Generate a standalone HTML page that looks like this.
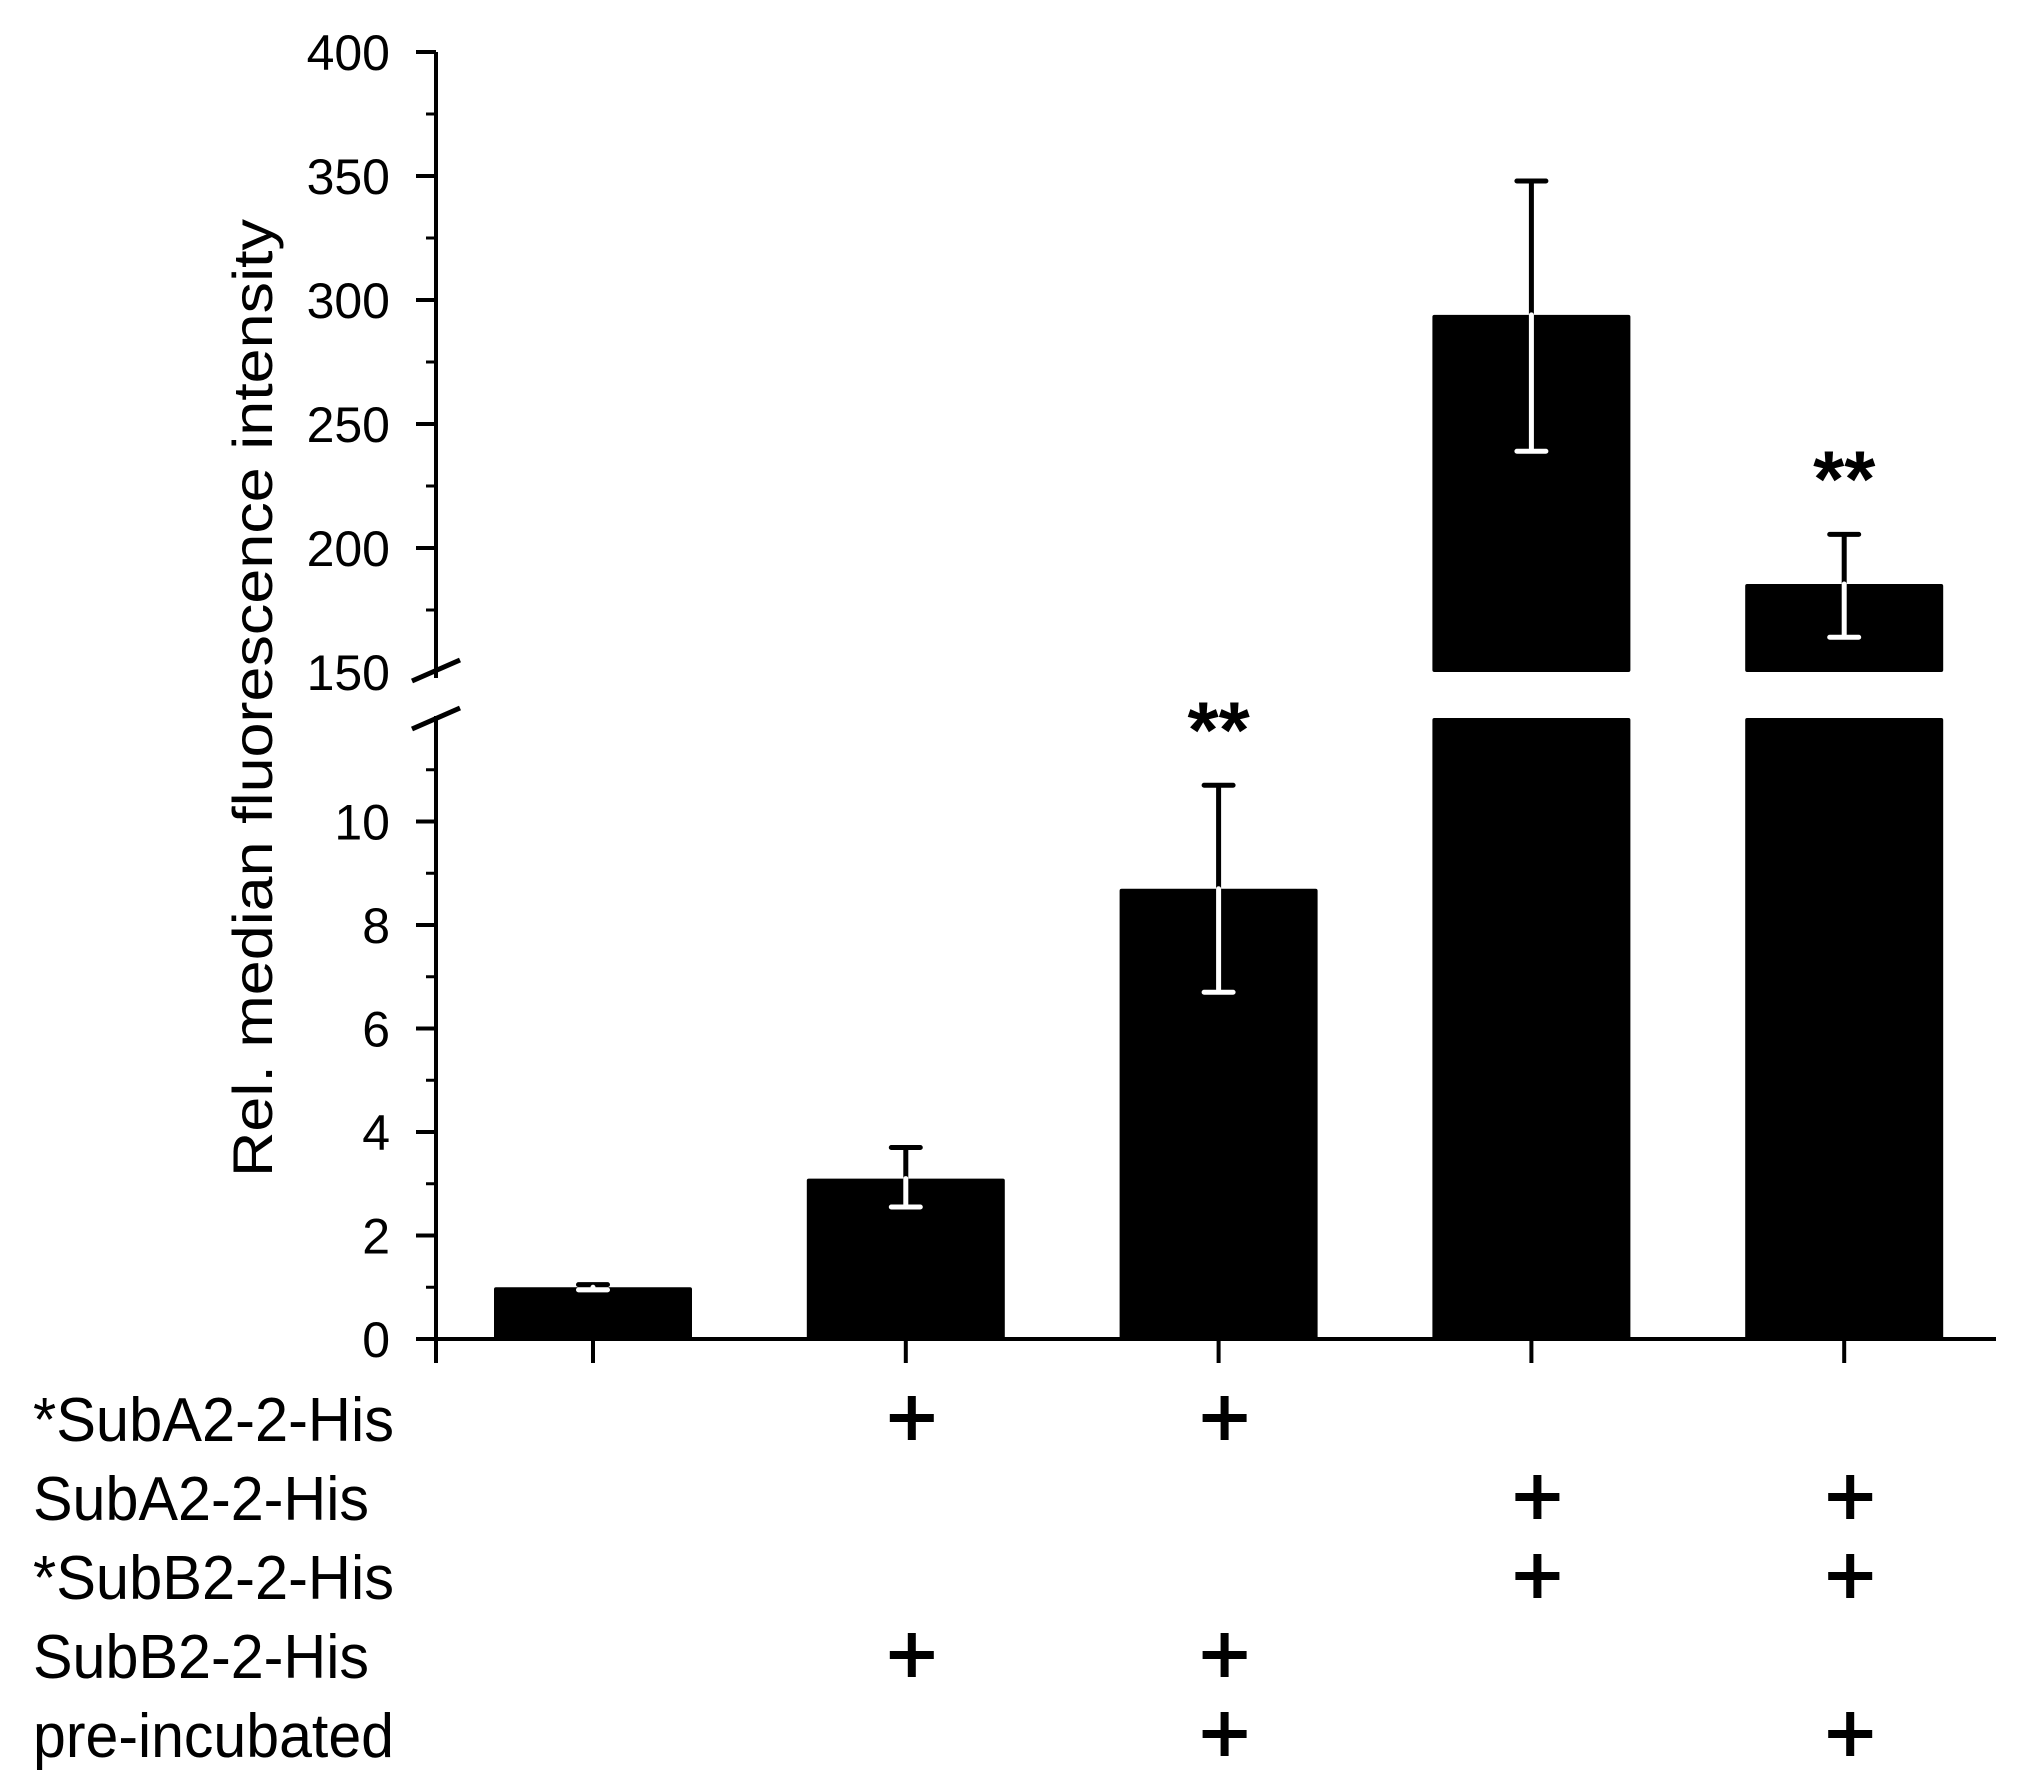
<!DOCTYPE html>
<html><head><meta charset="utf-8"><style>
html,body{margin:0;padding:0;background:#fff}
svg{display:block}
text{font-family:"Liberation Sans",Arial,sans-serif;fill:#000}
</style></head><body>
<svg id="chart" width="2039" height="1790" viewBox="0 0 2039 1790" xmlns="http://www.w3.org/2000/svg">
<g id="axes"></g>
<g id="bars"></g>
<g id="table"></g>
<text transform="translate(272,698) rotate(-90)" text-anchor="middle" font-size="56" textLength="958" lengthAdjust="spacingAndGlyphs">Rel. median fluorescence intensity</text>
</svg>
<script>
const categories = ["ctrl","A2*+B2","A2*+B2 pre","A2+B2*","A2+B2* pre"];
const values = [1.0, 3.1, 8.7, 294, 185.5];
const errLow = [0.95, 2.55, 6.7, 239, 164];
const errHigh = [1.05, 3.7, 10.7, 348, 205.5];
const significance = ["", "", "**", "", "**"];
const upperTicks = [150, 200, 250, 300, 350, 400];
const lowerTicks = [0, 2, 4, 6, 8, 10];
const rowLabels = ["*SubA2-2-His","SubA2-2-His","*SubB2-2-His","SubB2-2-His","pre-incubated"];
const rowPlus = [[0,1,1,0,0],[0,0,0,1,1],[0,0,0,1,1],[0,1,1,0,0],[0,0,1,0,1]];

const NS="http://www.w3.org/2000/svg";
function mk(tag, attrs, parent){const e=document.createElementNS(NS,tag);for(const k in attrs)e.setAttribute(k,attrs[k]);parent.appendChild(e);return e;}
const axX=436, xEnd=1996;
const upY0=672, upY1=52, upV0=150, upV1=400;
const loY0=1339, loTop=718, loV0=0, loV1=12;
function yUp(v){return upY0+(v-upV0)*(upY1-upY0)/(upV1-upV0);}
function yLo(v){return loY0+(v-loV0)*(loTop-loY0)/(loV1-loV0);}
function xC(i){return 593+i*312.8;}
const bw=198;
const ax=document.getElementById('axes'), bg=document.getElementById('bars'), tb=document.getElementById('table');

let l=mk('line',{x1:axX,y1:upY1,x2:axX,y2:upY0+6,stroke:'#000','stroke-width':4},ax);


l=mk('line',{x1:axX,y1:loTop-2,x2:axX,y2:loY0,stroke:'#000','stroke-width':4},ax);


l=mk('line',{x1:axX-2,y1:loY0,x2:xEnd,y2:loY0,stroke:'#000','stroke-width':4},ax);


[[681,660],[729,708]].forEach(p=>{const b=mk('line',{x1:412,y1:p[0],x2:460,y2:p[1],stroke:'#000','stroke-width':5},ax);

});
upperTicks.forEach(v=>{const y=yUp(v);
 if(v!==150){const t=mk('line',{x1:axX-20,y1:y,x2:axX,y2:y,stroke:'#000','stroke-width':4},ax);
 
 }
 const tx=mk('text',{x:390,y:y+18,'font-size':50,'text-anchor':'end'},ax);tx.textContent=v;
 
 
 if(v<400){const m=mk('line',{x1:axX-10,y1:yUp(v+25),x2:axX,y2:yUp(v+25),stroke:'#000','stroke-width':3},ax);
 
 }
});
lowerTicks.forEach(v=>{const y=yLo(v);
 const t=mk('line',{x1:axX-20,y1:y,x2:axX,y2:y,stroke:'#000','stroke-width':4},ax);
 
 
 const tx=mk('text',{x:390,y:y+18,'font-size':50,'text-anchor':'end'},ax);tx.textContent=v;
 
 
 const m=mk('line',{x1:axX-10,y1:yLo(v+1),x2:axX,y2:yLo(v+1),stroke:'#000','stroke-width':3},ax);
 
 
});
[axX].concat(categories.map((c,i)=>xC(i))).forEach(x=>{const t=mk('line',{x1:x,y1:loY0,x2:x,y2:loY0+24,stroke:'#000','stroke-width':4},ax);
 
 });

function errBar(x,yTop,yMid,yBot){
 const c=29/2;
 const up=mk('path',{d:`M${x},${yMid} V${yTop} M${x-c},${yTop} H${x+c}`,stroke:'#000','stroke-width':5,'stroke-linecap':'round',fill:'none'},bg);
 
 
 const dn=mk('path',{d:`M${x},${yMid} V${yBot} M${x-c},${yBot} H${x+c}`,stroke:'#fff','stroke-width':5,'stroke-linecap':'round',fill:'none'},bg);
 
 
}
categories.forEach((c,i)=>{
 const x=xC(i), x0=x-bw/2;
 if(values[i]>loV1){
  let r=mk('rect',{x:x0,y:loTop,width:bw,height:loY0-loTop,fill:'#000',rx:2},bg);
  
  
  const yt=yUp(values[i]);
  r=mk('rect',{x:x0,y:yt,width:bw,height:upY0-yt,fill:'#000',rx:2},bg);
  
  
  errBar(x,yUp(errHigh[i]),yt,yUp(errLow[i]));
 } else {
  const yt=yLo(values[i]);
  const r=mk('rect',{x:x0,y:yt,width:bw,height:loY0-yt,fill:'#000',rx:2},bg);
  
  
  errBar(x,yLo(errHigh[i]),yt,yLo(errLow[i]));
 }
 if(significance[i]){
  const top=values[i]>loV1?yUp(errHigh[i]):yLo(errHigh[i]);
  const s=mk('text',{x:x,y:top-28,'font-size':80,'font-weight':'bold','text-anchor':'middle'},bg);
  s.textContent=significance[i];
  
  
 }
});
rowLabels.forEach((lab,r)=>{
 const base=1441+r*79;
 const tl=(lab.startsWith('*')||lab.startsWith('pre'))?361:336;
 const t=mk('text',{x:33,y:base,'font-size':62,textLength:tl,lengthAdjust:'spacingAndGlyphs'},tb);t.textContent=lab;
 
 
 rowPlus[r].forEach((p,i)=>{ if(!p) return;
  const cx=xC(i)+6, cy=base-23;
  const g=mk('path',{d:`M${cx-22},${cy} H${cx+22} M${cx},${cy-22} V${cy+22}`,stroke:'#000','stroke-width':8,fill:'none'},tb);
  
  
 });
});
</script>
</body></html>
